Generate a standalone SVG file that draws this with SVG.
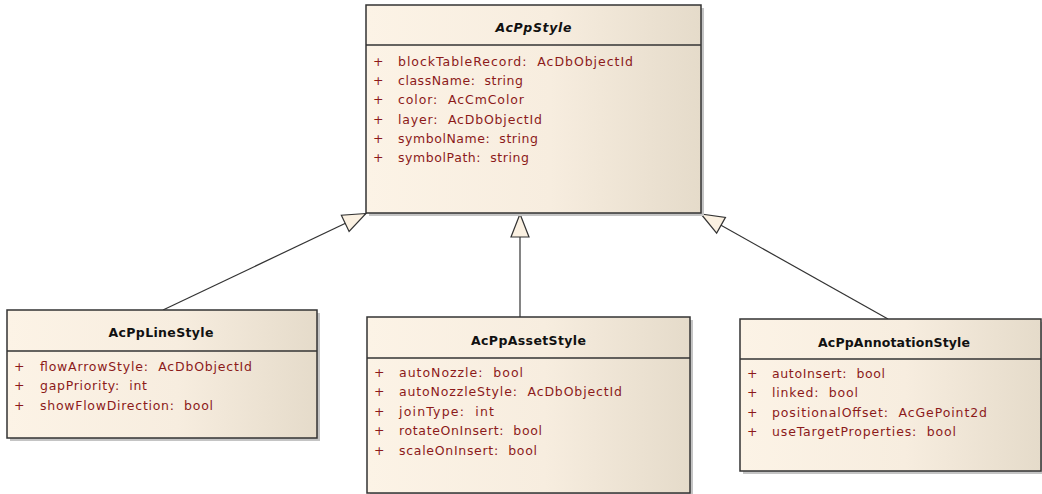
<svg xmlns="http://www.w3.org/2000/svg" width="1042" height="494" viewBox="0 0 1042 494">
<style>
.box{fill:url(#g);stroke:#333;stroke-width:1.5}
.sh{fill:#c4c4c4}
.sep{stroke:#333;stroke-width:1.5}
.t{font-family:"DejaVu Sans","Liberation Sans",sans-serif;font-size:12.5px;font-weight:bold;fill:#111;text-anchor:middle}
.a{font-family:"DejaVu Sans","Liberation Sans",sans-serif;font-size:12.5px;fill:#8c1a1a;white-space:pre}
.c{stroke:#333;stroke-width:1.2;fill:none;marker-end:url(#tri)}
</style>
<defs>
<linearGradient id="g" x1="0" y1="0" x2="1" y2="0">
<stop offset="0" stop-color="#fcf3e6"/>
<stop offset="0.55" stop-color="#f7eddf"/>
<stop offset="1" stop-color="#e5dbca"/>
</linearGradient>
<marker id="tri" markerUnits="userSpaceOnUse" viewBox="-24 -11 26 22" refX="0" refY="0" markerWidth="26" markerHeight="22" orient="auto" overflow="visible">
<path d="M0,0 L-23,-9 L-23,9 Z" fill="#fbf1e2" stroke="#333" stroke-width="1.2" stroke-linejoin="miter"/>
</marker>
</defs>
<rect width="1042" height="494" fill="#fff"/>
<g id="connectors">
<line class="c" x1="163" y1="310" x2="366" y2="213.5"/>
<line class="c" x1="520" y1="317" x2="520" y2="214"/>
<line class="c" x1="888" y1="319" x2="701" y2="214"/>
</g>
<g id="AcPpStyle">
<rect class="sh" x="369" y="8" width="335" height="208"/>
<rect class="box" x="366" y="5" width="335" height="208"/>
<line class="sep" x1="366" y1="45" x2="701" y2="45"/>
<text class="t" x="533.5" y="32" font-style="italic" textLength="76" lengthAdjust="spacing">AcPpStyle</text>
<g class="a">
<text x="373" y="66">+</text><text x="398" y="66" textLength="235" lengthAdjust="spacing">blockTableRecord:&#160; AcDbObjectId</text>
<text x="373" y="85.2">+</text><text x="398" y="85.2" textLength="125" lengthAdjust="spacing">className:&#160; string</text>
<text x="373" y="104.4">+</text><text x="398" y="104.4" textLength="126" lengthAdjust="spacing">color:&#160; AcCmColor</text>
<text x="373" y="123.6">+</text><text x="398" y="123.6" textLength="144" lengthAdjust="spacing">layer:&#160; AcDbObjectId</text>
<text x="373" y="142.8">+</text><text x="398" y="142.8" textLength="140" lengthAdjust="spacing">symbolName:&#160; string</text>
<text x="373" y="162">+</text><text x="398" y="162" textLength="131" lengthAdjust="spacing">symbolPath:&#160; string</text>
</g>
</g>
<g id="AcPpLineStyle">
<rect class="sh" x="10" y="313" width="310" height="128"/>
<rect class="box" x="7" y="310" width="310" height="128"/>
<line class="sep" x1="7" y1="351" x2="317" y2="351"/>
<text class="t" x="161" y="337" textLength="105" lengthAdjust="spacing">AcPpLineStyle</text>
<g class="a">
<text x="14" y="371">+</text><text x="40" y="371" textLength="212" lengthAdjust="spacing">flowArrowStyle:&#160; AcDbObjectId</text>
<text x="14" y="390.4">+</text><text x="40" y="390.4" textLength="107" lengthAdjust="spacing">gapPriority:&#160; int</text>
<text x="14" y="409.8">+</text><text x="40" y="409.8" textLength="173" lengthAdjust="spacing">showFlowDirection:&#160; bool</text>
</g>
</g>
<g id="AcPpAssetStyle">
<rect class="sh" x="370" y="320" width="323" height="176"/>
<rect class="box" x="367" y="317" width="323" height="176"/>
<line class="sep" x1="367" y1="358" x2="690" y2="358"/>
<text class="t" x="528.5" y="345" textLength="115" lengthAdjust="spacing">AcPpAssetStyle</text>
<g class="a">
<text x="374" y="377">+</text><text x="399" y="377" textLength="124" lengthAdjust="spacing">autoNozzle:&#160; bool</text>
<text x="374" y="396.4">+</text><text x="399" y="396.4" textLength="223" lengthAdjust="spacing">autoNozzleStyle:&#160; AcDbObjectId</text>
<text x="374" y="415.8">+</text><text x="399" y="415.8" textLength="95" lengthAdjust="spacing">joinType:&#160; int</text>
<text x="374" y="435.2">+</text><text x="399" y="435.2" textLength="143" lengthAdjust="spacing">rotateOnInsert:&#160; bool</text>
<text x="374" y="454.6">+</text><text x="399" y="454.6" textLength="138" lengthAdjust="spacing">scaleOnInsert:&#160; bool</text>
</g>
</g>
<g id="AcPpAnnotationStyle">
<rect class="sh" x="743" y="322" width="301" height="152"/>
<rect class="box" x="740" y="319" width="301" height="152"/>
<line class="sep" x1="740" y1="359" x2="1041" y2="359"/>
<text class="t" x="894" y="347" textLength="152" lengthAdjust="spacing">AcPpAnnotationStyle</text>
<g class="a">
<text x="747" y="378">+</text><text x="772" y="378" textLength="113" lengthAdjust="spacing">autoInsert:&#160; bool</text>
<text x="747" y="397.4">+</text><text x="772" y="397.4" textLength="86" lengthAdjust="spacing">linked:&#160; bool</text>
<text x="747" y="416.8">+</text><text x="772" y="416.8" textLength="215" lengthAdjust="spacing">positionalOffset:&#160; AcGePoint2d</text>
<text x="747" y="436.2">+</text><text x="772" y="436.2" textLength="184" lengthAdjust="spacing">useTargetProperties:&#160; bool</text>
</g>
</g>
</svg>
